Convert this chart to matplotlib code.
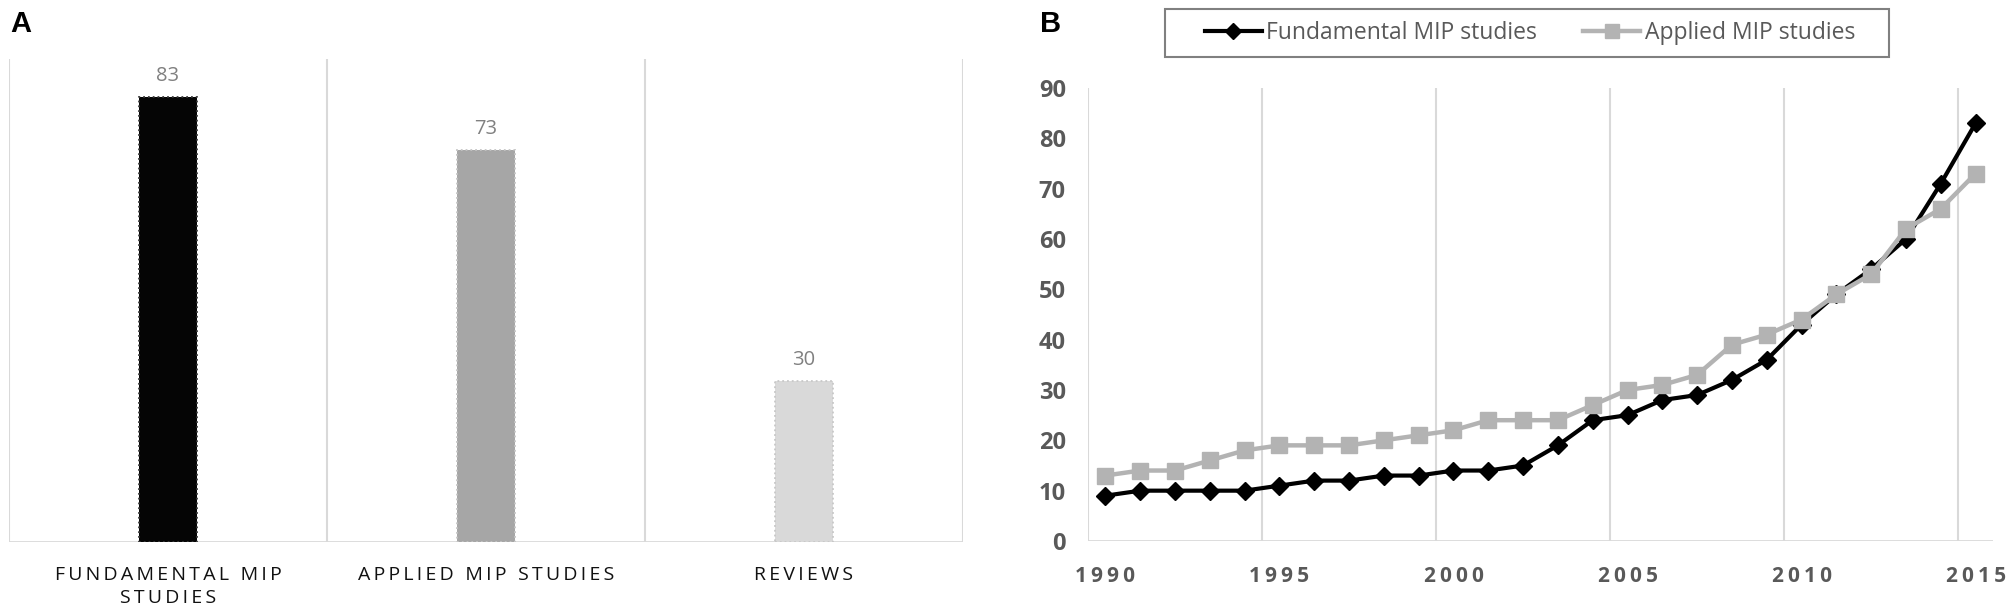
import matplotlib
matplotlib.use('Agg')
import matplotlib.pyplot as plt
from matplotlib.patches import Rectangle
import numpy as np

# ---------------- data ----------------
categories = ['FUNDAMENTAL MIP\nSTUDIES', 'APPLIED MIP STUDIES', 'REVIEWS']
totals = [83, 73, 30]

years = list(range(1990, 2016))
fundamental = [9, 10, 10, 10, 10, 11, 12, 12, 13, 13, 14, 14, 15, 19, 24,
               25, 28, 29, 32, 36, 43, 49, 54, 60, 71, 83]
applied = [13, 14, 14, 16, 18, 19, 19, 19, 20, 21, 22, 24, 24, 24, 27,
           30, 31, 33, 39, 41, 44, 49, 53, 62, 66, 73]
year_labels = [1990, 1995, 2000, 2005, 2010, 2015]
y_ticks = list(range(0, 91, 10))

# ---------------- figure ----------------
W, H = 2008, 614
fig = plt.figure(figsize=(W / 100, H / 100), dpi=100)
axA = fig.add_axes([9 / W, 1 - 542 / H, (963 - 9) / W, (542 - 59) / H])
axB = fig.add_axes([1088 / W, 1 - 541 / H, (1993 - 1088) / W, (541 - 88) / H])

GRID = '#d9d9d9'
TXT = '#595959'
SANS = ['Open Sans', 'DejaVu Sans']


def spaced(s, sep='\u2009'):
    return '\n'.join(sep.join(line) for line in s.split('\n'))


# ---------------- panel A ----------------
xa = np.arange(len(categories))
bar_colors = ['#050505', '#a6a6a6', '#d9d9d9']
edge_colors = ['#3a3a3a', '#c4c4c4', '#c8c8c8']
axA.bar(xa, totals, width=0.18, color=bar_colors, edgecolor=edge_colors,
        linestyle=':', linewidth=1.3, zorder=2)
axA.set_xlim(-0.5, len(categories) - 0.5)
axA.set_ylim(0, 90)
for xv in np.arange(-0.5, len(categories), 1.0):
    axA.axvline(xv, color=GRID, lw=1.5, zorder=0)
axA.axhline(0, color=GRID, lw=2, zorder=1)
for s in axA.spines.values():
    s.set_visible(False)
axA.set_yticks([])
axA.set_xticks(xa)
axA.set_xticklabels([spaced(c) for c in categories], fontsize=14,
                    family=SANS, color='#111111', linespacing=1.4)
axA.tick_params(axis='x', length=0, pad=17)
for xi, v in zip(xa, totals):
    axA.annotate(str(v), (xi, v), xytext=(0, 15), textcoords='offset points',
                 ha='center', va='center', fontsize=14.5, family=SANS,
                 color='#808080')

# ---------------- panel B ----------------
xb = np.arange(len(years))
axB.plot(xb, fundamental, color='black', lw=3, marker='D', ms=9.5,
         label='Fundamental MIP studies', zorder=3)
axB.plot(xb, applied, color='#b3b3b3', lw=3.2, marker='s', ms=12,
         label='Applied MIP studies', zorder=4)
axB.set_xlim(-0.5, len(years) - 0.5)
axB.set_ylim(0, 90)
for k in range(0, len(years), 5):
    axB.axvline(k - 0.5, color=GRID, lw=1.5, zorder=0)
axB.axhline(0, color=GRID, lw=2, zorder=1)
for s in axB.spines.values():
    s.set_visible(False)
axB.set_yticks(y_ticks)
axB.set_yticklabels([str(t) for t in y_ticks], fontsize=17, family=SANS,
                    fontweight='bold', color=TXT)
axB.tick_params(axis='y', length=0, pad=16)
axB.set_xticks([years.index(y) for y in year_labels])
axB.set_xticklabels([spaced(str(y)) for y in year_labels], fontsize=15,
                    family=SANS, fontweight='bold', color=TXT)
axB.tick_params(axis='x', length=0, pad=18)

handles, labels = axB.get_legend_handles_labels()
leg = fig.legend(handles, labels, loc='center',
                 bbox_to_anchor=(1530 / W, 1 - 33 / H), ncol=2,
                 frameon=False,
                 prop={'family': SANS, 'size': 16.5}, labelcolor=TXT,
                 handlelength=2.5, handletextpad=0.2, columnspacing=2.0,
                 borderpad=0.45, numpoints=1, markerscale=0.85)
fig.patches.append(Rectangle((1165 / W, 1 - 57 / H), (1889 - 1165) / W,
                             (57 - 9) / H, transform=fig.transFigure,
                             fill=False, edgecolor='#808080', lw=1.5))

# ---------------- panel letters ----------------
fig.text(21 / W, 1 - 23.5 / H, 'A', fontsize=21, fontweight='bold',
         family=['Liberation Sans', 'DejaVu Sans'], ha='center', va='center')
fig.text(1051 / W, 1 - 23.5 / H, 'B', fontsize=21, fontweight='bold',
         family=['Liberation Sans', 'DejaVu Sans'], ha='center', va='center')

fig.savefig('out.png', dpi=100, facecolor='white')
